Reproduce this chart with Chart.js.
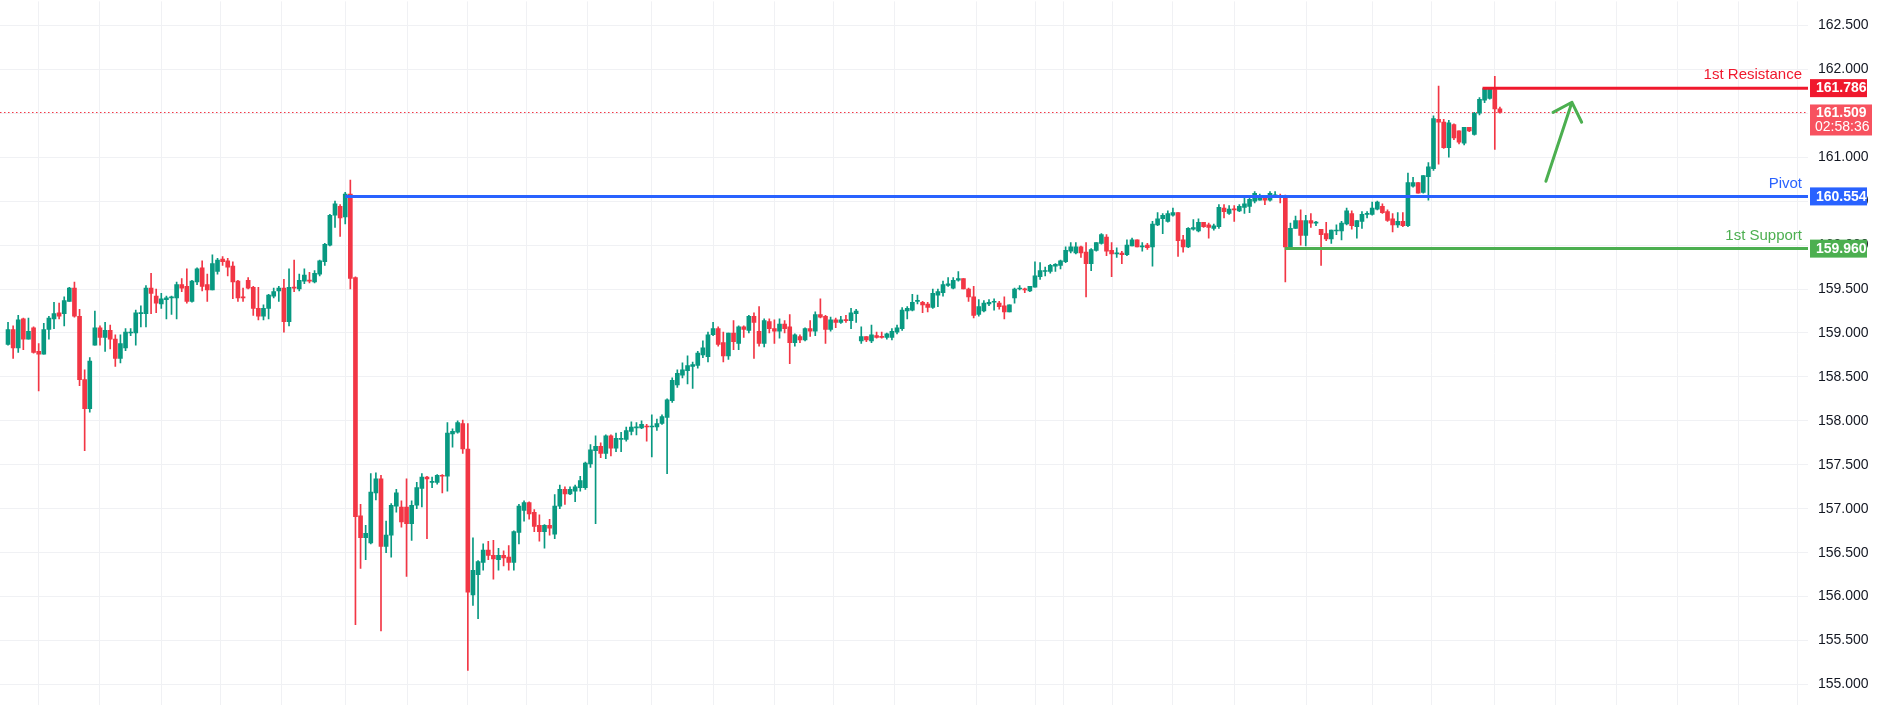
<!DOCTYPE html>
<html><head><meta charset="utf-8">
<script src="https://cdn.jsdelivr.net/npm/chart.js@4.4.1/dist/chart.umd.min.js"></script>
<style>html,body{margin:0;padding:0;background:#fff;overflow:hidden;width:1878px;height:705px}#c{display:block;margin-top:-17px}</style>
</head><body>
<canvas id="c" width="1878" height="741"></canvas>
<script>
const opens=[158.87,159.04,158.83,159.16,158.93,159.06,158.79,158.76,159.04,159.16,159.23,159.22,159.36,159.51,159.19,158.47,158.14,158.86,159.06,158.95,159.03,158.93,158.71,158.83,159.00,159.00,159.22,159.22,159.51,159.42,159.33,159.38,159.40,159.40,159.55,159.53,159.36,159.58,159.74,159.55,159.49,159.70,159.84,159.82,159.76,159.59,159.41,159.60,159.52,159.28,159.19,159.28,159.42,159.48,159.51,159.13,159.52,159.50,159.59,159.60,159.58,159.67,159.81,160.00,160.34,160.44,160.32,160.58,159.63,156.92,156.67,156.61,157.18,157.34,156.57,156.70,157.03,157.02,157.02,156.83,157.04,157.23,157.36,157.30,157.30,157.38,157.37,157.85,157.87,157.97,157.68,156.02,156.25,156.39,156.53,156.47,156.42,156.47,156.45,156.39,156.73,156.98,157.07,156.96,156.81,156.74,156.81,156.71,157.03,157.22,157.17,157.20,157.24,157.24,157.51,157.66,157.71,157.63,157.83,157.69,157.79,157.79,157.88,157.92,157.92,157.94,157.93,157.93,157.97,158.04,158.23,158.41,158.52,158.57,158.62,158.63,158.75,158.73,158.98,159.05,158.89,158.74,159.00,158.88,159.07,159.03,159.19,159.02,158.88,159.13,159.05,159.02,159.10,159.07,158.89,158.96,158.92,159.05,159.02,159.21,159.19,159.04,159.15,159.12,159.15,159.14,159.22,158.91,158.96,158.91,158.97,158.96,158.95,158.95,159.01,159.05,159.25,159.26,159.36,159.35,159.33,159.29,159.43,159.46,159.54,159.51,159.60,159.62,159.50,159.41,159.21,159.25,159.33,159.35,159.34,159.31,159.24,159.40,159.50,159.50,159.48,159.52,159.64,159.70,159.70,159.76,159.77,159.81,159.93,159.91,159.98,159.92,159.79,159.94,160.02,160.09,159.94,159.90,159.91,159.89,159.99,160.06,159.98,160.00,159.98,160.23,160.30,160.27,160.34,160.37,160.06,159.98,160.18,160.16,160.26,160.23,160.19,160.21,160.42,160.36,160.41,160.39,160.43,160.44,160.50,160.51,160.55,160.51,160.56,160.56,160.55,159.96,160.19,160.28,160.11,160.28,160.25,160.18,160.13,160.07,160.16,160.16,160.24,160.36,160.21,160.27,160.35,160.35,160.41,160.44,160.38,160.30,160.23,160.27,160.22,160.67,160.71,160.60,160.78,160.87,161.43,161.40,161.11,161.37,161.30,161.16,161.34,161.26,161.50,161.65,161.67,161.77,161.55];
const highs=[159.12,159.08,159.20,159.17,159.17,159.07,158.88,159.11,159.19,159.35,159.34,159.41,159.52,159.58,159.27,158.58,158.72,159.25,159.08,159.12,159.09,158.98,158.98,159.05,159.05,159.26,159.31,159.54,159.68,159.50,159.45,159.42,159.42,159.58,159.62,159.73,159.60,159.74,159.82,159.67,159.89,159.85,159.87,159.85,159.81,159.60,159.51,159.63,159.53,159.52,159.32,159.44,159.51,159.53,159.61,159.73,159.83,159.67,159.73,159.69,159.71,159.83,160.02,160.35,160.50,160.46,160.60,160.74,159.64,157.05,156.81,157.40,157.41,157.38,156.86,157.06,157.22,157.09,157.34,157.09,157.30,157.40,157.37,157.36,157.39,157.39,157.98,157.91,158.00,158.01,157.97,156.67,156.41,156.60,156.63,156.64,156.55,156.52,156.58,156.75,157.05,157.09,157.08,156.99,156.93,156.82,156.88,157.16,157.27,157.25,157.25,157.27,157.37,157.53,157.73,157.83,157.75,157.84,157.84,157.86,157.87,157.93,157.99,157.98,158.00,157.96,158.07,158.02,158.07,158.25,158.49,158.58,158.66,158.74,158.67,158.79,158.91,159.01,159.12,159.07,159.01,159.00,159.14,159.08,159.08,159.20,159.23,159.30,159.16,159.16,159.15,159.16,159.14,159.21,158.99,158.98,159.06,159.14,159.24,159.39,159.20,159.18,159.17,159.19,159.20,159.28,159.27,159.07,158.96,159.09,159.01,159.01,159.00,159.05,159.09,159.29,159.30,159.44,159.43,159.36,159.35,159.50,159.50,159.59,159.63,159.63,159.70,159.62,159.51,159.53,159.38,159.37,159.38,159.39,159.36,159.41,159.32,159.51,159.54,159.51,159.53,159.81,159.80,159.75,159.78,159.79,159.83,159.98,160.03,160.03,159.99,160.03,159.96,160.03,160.13,160.12,160.03,159.97,159.93,160.06,160.08,160.06,160.03,160.02,160.27,160.37,160.36,160.39,160.42,160.37,160.11,160.20,160.29,160.30,160.26,160.25,160.24,160.46,160.46,160.45,160.45,160.46,160.54,160.56,160.61,160.58,160.56,160.61,160.61,160.58,160.57,160.25,160.33,160.40,160.34,160.36,160.27,160.18,160.26,160.17,160.23,160.27,160.42,160.39,160.28,160.38,160.38,160.49,160.50,160.47,160.40,160.36,160.37,160.37,160.82,160.77,160.71,160.79,160.94,161.47,161.81,161.43,161.42,161.38,161.30,161.34,161.34,161.51,161.68,161.79,161.79,161.92,161.57];
const lows=[158.86,158.71,158.78,158.81,158.93,158.77,158.34,158.76,158.93,159.05,159.16,159.08,159.36,159.18,158.40,157.66,158.10,158.86,158.86,158.79,158.82,158.62,158.66,158.80,158.97,158.86,159.07,159.07,159.22,159.23,159.28,159.16,159.21,159.16,159.47,159.34,159.35,159.55,159.48,159.36,159.49,159.67,159.77,159.65,159.39,159.36,159.36,159.50,159.20,159.15,159.15,159.16,159.40,159.36,159.01,159.08,159.47,159.48,159.56,159.57,159.57,159.65,159.77,159.99,160.20,160.10,160.24,159.50,155.68,156.32,156.42,156.60,157.10,155.61,156.50,156.45,156.96,156.79,156.23,156.64,157.00,157.02,156.66,157.24,157.28,157.18,157.20,157.70,157.86,157.63,155.16,155.90,155.75,156.30,156.42,156.20,156.30,156.35,156.30,156.30,156.60,156.86,156.88,156.74,156.63,156.55,156.70,156.66,157.00,157.05,157.16,157.08,157.20,157.22,157.47,156.83,157.58,157.57,157.60,157.65,157.65,157.77,157.84,157.84,157.91,157.77,157.59,157.89,157.96,157.40,158.21,158.38,158.49,158.42,158.37,158.60,158.72,158.67,158.97,158.85,158.67,158.70,158.81,158.81,158.95,159.00,158.71,158.85,158.84,159.00,158.88,158.94,159.00,158.65,158.85,158.89,158.91,158.96,158.97,159.17,158.88,159.02,159.06,159.11,159.12,159.05,159.12,158.88,158.90,158.89,158.94,158.94,158.93,158.92,158.99,159.03,159.16,159.25,159.33,159.23,159.24,159.28,159.30,159.42,159.53,159.50,159.59,159.50,159.36,159.17,159.19,159.24,159.31,159.26,159.27,159.16,159.24,159.34,159.49,159.46,159.47,159.52,159.61,159.65,159.68,159.70,159.73,159.80,159.91,159.90,159.86,159.41,159.71,159.93,160.01,159.88,159.64,159.86,159.79,159.88,159.99,159.98,159.93,159.95,159.76,160.22,160.13,160.26,160.33,159.87,159.92,159.97,160.17,160.15,160.20,160.08,160.17,160.19,160.31,160.35,160.27,160.38,160.36,160.37,160.48,160.51,160.46,160.50,160.54,160.48,159.58,159.96,160.19,160.00,159.99,160.20,160.22,159.77,160.05,160.02,160.12,160.06,160.23,160.18,160.08,160.19,160.31,160.34,160.40,160.36,160.27,160.15,160.20,160.21,160.21,160.66,160.59,160.59,160.51,160.85,160.92,161.10,161.00,161.20,161.15,161.14,161.29,161.25,161.48,161.62,161.66,161.09,161.50];
const closes=[159.04,158.83,159.15,158.93,159.02,158.78,158.76,159.04,159.17,159.22,159.19,159.37,159.51,159.19,158.47,158.14,158.68,159.06,158.95,159.03,158.93,158.71,158.88,159.01,159.01,159.23,159.23,159.51,159.45,159.34,159.39,159.40,159.41,159.55,159.51,159.36,159.59,159.73,159.53,159.49,159.79,159.83,159.81,159.75,159.58,159.40,159.40,159.51,159.28,159.19,159.28,159.43,159.47,159.51,159.13,159.52,159.51,159.60,159.66,159.59,159.68,159.82,160.01,160.34,160.47,160.31,160.58,159.62,156.91,156.67,156.72,157.19,157.34,156.57,156.70,157.04,157.18,156.85,156.83,157.04,157.24,157.36,157.34,157.31,157.38,157.37,157.86,157.88,157.98,157.68,156.05,156.30,156.40,156.53,156.47,156.43,156.47,156.44,156.39,156.74,157.03,157.07,156.94,156.80,156.74,156.81,156.78,157.03,157.22,157.17,157.22,157.25,157.32,157.52,157.67,157.71,157.63,157.83,157.69,157.80,157.80,157.89,157.93,157.93,157.96,157.93,157.94,157.97,158.05,158.24,158.46,158.54,158.58,158.63,158.64,158.77,158.83,158.98,159.05,158.87,158.74,159.00,158.90,159.07,159.04,159.19,159.12,158.88,159.14,159.05,159.02,159.10,159.05,158.89,158.98,158.92,159.05,159.02,159.21,159.18,159.04,159.15,159.12,159.15,159.14,159.23,159.25,158.96,158.92,158.98,158.95,158.95,158.99,159.02,159.06,159.26,159.28,159.35,159.37,159.32,159.29,159.45,159.47,159.55,159.56,159.60,159.62,159.50,159.41,159.20,159.30,159.34,159.35,159.35,159.30,159.24,159.32,159.50,159.50,159.49,159.53,159.65,159.71,159.70,159.77,159.78,159.82,159.94,159.98,159.98,159.91,159.79,159.95,160.03,160.12,159.93,159.90,159.91,159.89,160.00,160.06,159.98,159.99,159.97,160.24,160.30,160.34,160.36,160.37,160.05,159.98,160.19,160.20,160.26,160.21,160.20,160.22,160.43,160.38,160.41,160.40,160.44,160.47,160.52,160.59,160.55,160.51,160.59,160.57,160.55,159.98,160.19,160.28,160.11,160.28,160.25,160.25,160.12,160.07,160.17,160.17,160.25,160.39,160.22,160.28,160.35,160.36,160.42,160.49,160.37,160.28,160.23,160.27,160.22,160.71,160.71,160.59,160.79,160.89,161.44,161.40,161.11,161.39,161.22,161.17,161.34,161.30,161.50,161.66,161.78,161.78,161.55,161.51];
const levelNames=['1st Resistance','Pivot','1st Support'];
const levelValues=[161.786,160.554,159.960];
const levelStart=[288.6,66,249.9];
const levelColors=['#f0182d','#2962ff','#4caf50'];
const lastPrice=161.509, countdown='02:58:36';
const yTicks=[155,155.5,156,156.5,157,157.5,158,158.5,159,159.5,160,160.5,161,161.5,162,162.5];
const xGrid=[0,11.9,23.9,36,47,60,72.2,84,95.9,107,119.9,132,144,156.2,167,180,199.3,203,210.2,222,234,246.2,262,272.2,285,297,308.9,320.8,332.8,344.4];
const arrowX=[301,306.1,302.4,306.1,308.0], arrowY=[160.727,161.625,161.511,161.625,161.398];
const XMAX=352.3, YMIN=154.76, YMAX=162.773;
const UP='#089981', DN='#f23645';
const idx=closes.map((_,i)=>i);
const cols=idx.map(i=>closes[i]>=opens[i]?UP:DN);
const datasets=[
 {type:'bar',data:idx.map(i=>({x:i,y:[lows[i],highs[i]]})),backgroundColor:cols,barThickness:1,grouped:false,order:3},
 {type:'bar',data:idx.map(i=>({x:i,y:[Math.min(opens[i],closes[i]),Math.max(opens[i],closes[i])]})),backgroundColor:cols,barThickness:4,minBarLength:1,grouped:false,order:2}
];
levelValues.forEach((v,k)=>datasets.push({type:'line',data:[{x:levelStart[k],y:v},{x:XMAX,y:v}],borderColor:levelColors[k],borderWidth:3,pointRadius:0,order:1}));
datasets.push({type:'line',data:arrowX.map((x,i)=>({x,y:arrowY[i]})),borderColor:'#4caf50',borderWidth:3,pointRadius:0,borderCapStyle:'round',borderJoinStyle:'round',order:1});
const overlay={id:'ov',
 beforeDatasetsDraw(c){const{ctx,chartArea:a,scales:{y}}=c;const py=Math.round(y.getPixelForValue(lastPrice))+0.5;
  ctx.save();ctx.strokeStyle=DN;ctx.lineWidth=1;ctx.setLineDash([1.5,2.5]);ctx.beginPath();ctx.moveTo(a.left,py);ctx.lineTo(a.right,py);ctx.stroke();ctx.restore();},
 afterDraw(c){const{ctx,chartArea:a,scales:{y}}=c;ctx.save();
  ctx.textBaseline='middle';
  levelValues.forEach((v,k)=>{const py=y.getPixelForValue(v);
   ctx.fillStyle=levelColors[k];ctx.font='15px "Liberation Sans", Arial';ctx.textAlign='right';ctx.fillText(levelNames[k],a.right-6,py-13);
   ctx.fillRect(a.right+2,py-9,57,18);ctx.fillStyle='#fff';ctx.font='bold 14px "Liberation Sans", Arial';ctx.textAlign='left';ctx.fillText(v.toFixed(3),a.right+8,py+0.5);});
  const py=y.getPixelForValue(lastPrice);ctx.fillStyle='#f7525f';ctx.fillRect(a.right+2,py-8,62,31);
  ctx.fillStyle='#fff';ctx.font='bold 14px "Liberation Sans", Arial';ctx.textAlign='left';ctx.fillText(lastPrice.toFixed(3),a.right+8,py+0.5);
  ctx.font='14px "Liberation Sans", Arial';ctx.fillText(countdown,a.right+7,py+15);
  ctx.restore();}};
new Chart(document.getElementById('c'),{data:{datasets},plugins:[overlay],
 options:{responsive:false,animation:false,devicePixelRatio:1,layout:{padding:0},
  plugins:{legend:{display:false},tooltip:{enabled:false}},
  scales:{
   x:{type:'linear',min:-1.57,max:XMAX,offset:false,border:{display:false},grid:{color:'#f0f1f4',drawTicks:false},ticks:{display:false},afterBuildTicks:s=>{s.ticks=xGrid.map(v=>({value:v}));},afterFit:s=>{s.height=0;}},
   y:{position:'right',min:YMIN,max:YMAX,border:{display:false},grid:{color:'#f0f1f4',drawTicks:false},
    afterBuildTicks:s=>{s.ticks=yTicks.map(v=>({value:v}));},afterFit:s=>{s.width=70;},
    ticks:{padding:10,color:'#131722',font:{family:'"Liberation Sans", Arial',size:14},callback:v=>Number(v).toFixed(3)}}
  }}});
</script>
</body></html>
